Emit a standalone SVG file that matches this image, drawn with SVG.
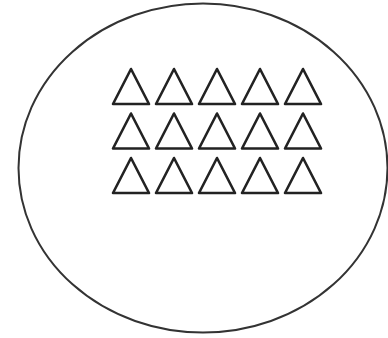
<svg xmlns="http://www.w3.org/2000/svg" xmlns:xlink="http://www.w3.org/1999/xlink" width="388" height="338" viewBox="0 0 388 338">
<style>
.ell{fill:none;stroke:#333;stroke-width:2}
.tri{fill:none;stroke:#222;stroke-width:2.6;stroke-linejoin:round}
</style>
<defs>
<path id="t" class="tri" d="M0,0 L18,35 L-18,35 Z"/>
</defs>
<rect width="388" height="338" fill="#fff"/>
<g id="outline"><ellipse class="ell" cx="203" cy="168" rx="184.5" ry="164.5"/></g>
<g id="triangles">
<use xlink:href="#t" x="131" y="69"/><use xlink:href="#t" x="174" y="69"/><use xlink:href="#t" x="217" y="69"/><use xlink:href="#t" x="260" y="69"/><use xlink:href="#t" x="303" y="69"/>
<use xlink:href="#t" x="131" y="113.5"/><use xlink:href="#t" x="174" y="113.5"/><use xlink:href="#t" x="217" y="113.5"/><use xlink:href="#t" x="260" y="113.5"/><use xlink:href="#t" x="303" y="113.5"/>
<use xlink:href="#t" x="131" y="158"/><use xlink:href="#t" x="174" y="158"/><use xlink:href="#t" x="217" y="158"/><use xlink:href="#t" x="260" y="158"/><use xlink:href="#t" x="303" y="158"/>
</g>
</svg>
